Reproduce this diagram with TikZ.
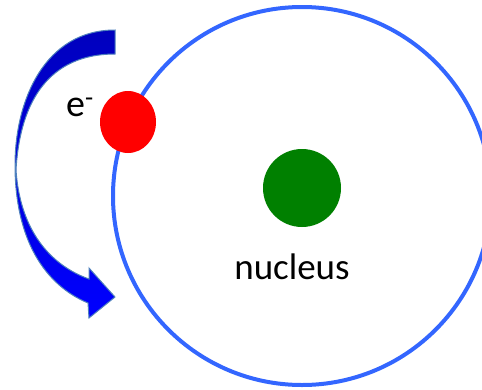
\documentclass[tikz,border=0pt]{standalone}
\usepackage{fontspec}
\setmainfont{Carlito}
\usetikzlibrary{shapes.geometric}
\definecolor{orbitblue}{RGB}{51,102,255}
\definecolor{nucgreen}{RGB}{0,128,0}
\definecolor{elecred}{RGB}{255,0,0}
\definecolor{arrowtop}{RGB}{0,0,190}
\definecolor{arrowbot}{RGB}{0,0,255}
\definecolor{arrowedge}{RGB}{79,129,189}
\tikzset{
  orbitstyle/.style={circle, draw=orbitblue, line width=4pt, minimum size=378pt, inner sep=0pt},
  nucstyle/.style={circle, fill=nucgreen, minimum size=78pt, inner sep=0pt},
  elecstyle/.style={ellipse, fill=elecred, minimum width=56pt, minimum height=62pt, inner sep=0pt},
  labelstyle/.style={inner sep=0pt, anchor=base, text=black},
  arrowstyle/.style={top color=arrowtop, bottom color=arrowbot, draw=arrowedge, line width=1pt, line join=miter}
}
\begin{document}
\begin{tikzpicture}[x=1pt,y=-1pt]
\useasboundingbox (0,0) rectangle (482,389);
\node[orbitstyle] (orbit) at (302,196) {};
\node[nucstyle] (nucleus) at (302,188) {};
\node[labelstyle, font=\fontsize{37}{44}\selectfont] (nuclabel) at (292,279) {nucleus};
\node[labelstyle, font=\fontsize{38}{44}\selectfont] (elabel) at (80,116) {e\textsuperscript{-}};
\node[elecstyle] (electron) at (128,122) {};
\path[arrowstyle] (115,30) .. controls (45,30) and (15,100) .. (15,165)
  .. controls (15,240) and (45,285) .. (88,303) -- (89,318) -- (115,297) -- (89,268) -- (89,279)
  .. controls (50,265) and (20,230) .. (16,170)
  .. controls (20,100) and (50,54) .. (115,54) -- cycle;
\end{tikzpicture}
\end{document}
